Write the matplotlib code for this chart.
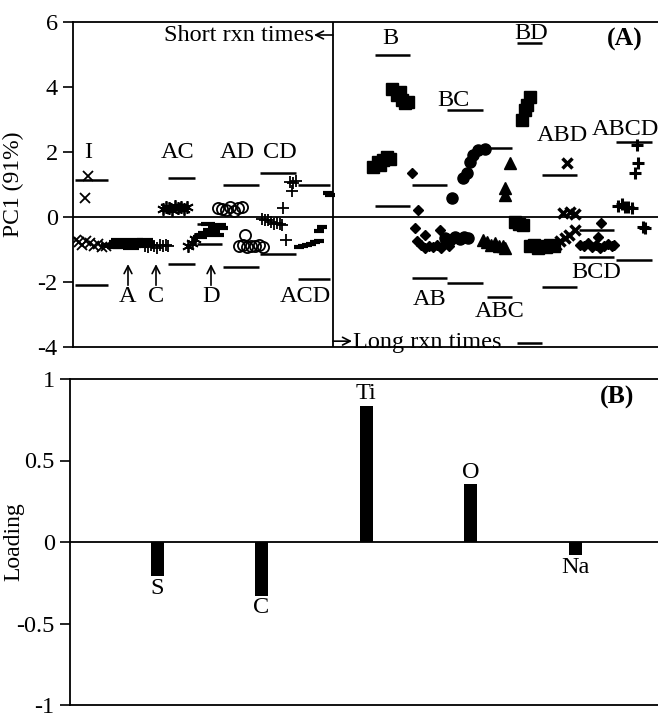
import matplotlib
matplotlib.use("Agg")
import matplotlib.pyplot as plt

plt.rcParams['font.family'] = ['Liberation Serif', 'DejaVu Serif']
plt.rcParams['axes.unicode_minus'] = False

# ---------------- Panel A data (x = sample position, y = PC1 score) ----------------
groups = ['I', 'A', 'C', 'AC', 'D', 'AD', 'CD', 'ACD',
          'B', 'AB', 'BC', 'ABC', 'BD', 'ABD', 'BCD', 'ABCD']

I_x = [15, 12, 3, 6, 9, 13, 17, 21, 25, 29, 33]
I_y = [1.26, 0.58, -0.72, -0.78, -0.85, -0.75, -0.8, -0.9, -0.83, -0.92, -0.88]
A_x = [36, 40, 44, 48, 52, 56, 60, 64, 68, 72, 42, 50, 58, 66, 74, 46, 62]
A_y = [-0.85, -0.9, -0.78, -0.92, -0.85, -0.8, -0.9, -0.75, -0.85, -0.7, -0.93, -0.82, -0.95, -0.88, -0.8, -0.72, -0.7]
C_x = [72, 75, 78, 81, 84, 87, 90, 93, 95]
C_y = [-0.88, -0.92, -0.85, -0.9, -0.95, -0.87, -0.9, -0.85, -0.88]
AC_x = [90, 93, 96, 99, 102, 105, 108, 111, 114]
AC_y = [0.25, 0.32, 0.28, 0.22, 0.35, 0.27, 0.3, 0.25, 0.3]
D_star_x = [115, 119, 122]
D_star_y = [-0.88, -0.8, -0.68]
D_x = [127, 132, 137, 142, 146, 130, 140, 148, 135, 144]
D_y = [-0.62, -0.5, -0.4, -0.3, -0.25, -0.55, -0.45, -0.35, -0.22, -0.55]
AD_x = [145, 149, 153, 157, 161, 165, 169, 172, 166, 170, 174, 178, 182, 186, 190]
AD_y = [0.28, 0.25, 0.22, 0.3, 0.2, 0.28, 0.32, -0.55, -0.9, -0.85, -0.92, -0.88, -0.9, -0.85, -0.92]
CD_x = [217, 220, 223, 219, 210, 213, 189, 192, 195, 198, 201, 204, 207, 209]
CD_y = [1.07, 1.05, 1.1, 0.8, 0.28, -0.7, -0.05, -0.1, -0.08, -0.15, -0.2, -0.18, -0.22, -0.25]
ACD_x = [255, 257, 249, 246, 226, 230, 234, 238, 242, 246]
ACD_y = [0.74, 0.68, -0.3, -0.42, -0.92, -0.88, -0.85, -0.82, -0.78, -0.75]
B_x = [319, 324, 327, 332, 335, 329, 300, 305, 310, 314, 307, 317]
B_y = [3.95, 3.75, 3.85, 3.5, 3.55, 3.6, 1.55, 1.7, 1.75, 1.85, 1.6, 1.8]
AB_x = [339, 345, 342, 352, 367, 344, 348, 352, 356, 360, 364, 368, 372, 376]
AB_y = [1.35, 0.22, -0.33, -0.55, -0.4, -0.75, -0.85, -0.95, -0.9, -0.92, -0.85, -0.95, -0.8, -0.88]
BC_x = [379, 390, 394, 397, 400, 405, 412, 372, 377, 382, 387, 391, 395]
BC_y = [0.58, 1.2, 1.35, 1.7, 1.9, 2.05, 2.1, -0.65, -0.7, -0.62, -0.68, -0.6, -0.65]
ABC_x = [437, 432, 432, 410, 414, 418, 422, 426, 430, 432]
ABC_y = [1.66, 0.9, 0.68, -0.72, -0.78, -0.85, -0.8, -0.9, -0.88, -0.95]
BD_x = [457, 454, 452, 449, 442, 446, 450, 457, 461, 465, 469, 473, 477, 481]
BD_y = [3.69, 3.45, 3.3, 2.98, -0.15, -0.22, -0.25, -0.9, -0.85, -0.95, -0.88, -0.92, -0.85, -0.9]
ABD_x = [494, 490, 497, 502, 502, 496, 492, 487, 483]
ABD_y = [1.66, 0.12, 0.15, 0.1, -0.4, -0.55, -0.65, -0.75, -0.85]
BCD_x = [528, 525, 507, 511, 515, 519, 523, 527, 531, 535, 539, 541]
BCD_y = [-0.18, -0.6, -0.85, -0.9, -0.8, -0.92, -0.85, -0.95, -0.88, -0.82, -0.9, -0.85]
ABCD_x = [564, 565, 562, 545, 549, 552, 555, 559, 572, 570]
ABCD_y = [2.22, 1.66, 1.35, 0.35, 0.4, 0.3, 0.32, 0.28, -0.35, -0.3]

# limit lines: (x start, x end, upper, lower)
lim_x0 = [2, None, None, 95, 124, 150, 187, 225, 302, 339, 374, 414, 444, 469, 506, 543]
lim_x1 = [35, None, None, 122, 149, 186, 223, 257, 337, 374, 410, 439, 469, 504, 541, 579]
lim_up = [1.14, None, None, 1.2, -0.22, 0.98, 1.36, 0.98, 4.98, 0.98, 3.29, 2.12, 5.35, 1.3, -0.4, 2.31]
lim_lo = [-2.09, None, None, -1.45, -0.83, -1.55, -1.14, -1.9, 0.34, -1.88, -2.03, -2.46, -3.88, -2.15, -1.23, -1.32]

# group labels: (x, y)
lab_x = [15, 55, 83, 105, 138, 164, 207, 232, 317, 357, 380, 427, 458, 489, 523, 552]
lab_y = [2.0, -2.46, -2.46, 2.0, -2.46, 2.0, 2.0, -2.46, 5.5, -2.55, 3.6, -2.92, 5.66, 2.52, -1.72, 2.68]

# ---------------- Panel B data ----------------
elements = ['S', 'C', 'Ti', 'O', 'Na']
loadings = [-0.21, -0.33, 0.835, 0.354, -0.08]

fig = plt.figure(figsize=(6.58, 7.13), dpi=100)
axA = fig.add_axes([73/658, 1-347/713, 1-73/658 + 0.01, (347-22)/713])
axB = fig.add_axes([70/658, 1-705/713, 1-70/658 + 0.01, (705-379)/713])

FS = 17.5
TFS = 17.5
k = 'black'
ARW = dict(arrowstyle='->,head_length=0.55,head_width=0.28', color=k, lw=1.2,
           shrinkA=0, shrinkB=0)
axA.plot(I_x, I_y, 'x', color=k, ms=7, mew=1.3, ls='none')
axA.plot(A_x, A_y, '_', color=k, ms=11, mew=3, ls='none')
axA.plot(C_x, C_y, '+', color=k, ms=9, mew=1.3, ls='none')
axA.plot(AC_x, AC_y, marker=(6, 2, 0), color=k, ms=9, mew=1.3, ls='none')
axA.plot(D_star_x, D_star_y, marker=(6, 2, 0), color=k, ms=9, mew=1.3, ls='none')
axA.plot(D_x, D_y, '_', color=k, ms=10, mew=3, ls='none')
axA.plot(AD_x, AD_y, 'o', mfc='none', mec=k, ms=8, mew=1.3, ls='none')
axA.plot(CD_x, CD_y, '+', color=k, ms=8, mew=1.3, ls='none')
axA.plot(ACD_x, ACD_y, '_', color=k, ms=7, mew=3, ls='none')
axA.plot(B_x, B_y, 's', color=k, ms=8, ls='none')
axA.plot(AB_x, AB_y, 'D', color=k, ms=5.5, ls='none')
axA.plot(BC_x, BC_y, 'o', color=k, ms=8, ls='none')
axA.plot(ABC_x, ABC_y, '^', color=k, ms=8, ls='none')
axA.plot(BD_x, BD_y, 's', color=k, ms=8, ls='none')
axA.plot(ABD_x, ABD_y, 'x', color=k, ms=7, mew=2.5, ls='none')
axA.plot(BCD_x, BCD_y, 'D', color=k, ms=5.5, ls='none')
axA.plot(ABCD_x, ABCD_y, '+', color=k, ms=8, mew=2.2, ls='none')

for x0, x1, up, lo in zip(lim_x0, lim_x1, lim_up, lim_lo):
    if x0 is None:
        continue
    axA.hlines([up, lo], x0, x1, color=k, lw=1.8)

for g, x, y in zip(groups, lab_x, lab_y):
    axA.text(x, y, g, ha='center', va='center', fontsize=FS)

for g in ['A', 'C', 'D']:
    i = groups.index(g)
    axA.annotate('', xy=(lab_x[i], -1.45), xytext=(lab_x[i], -2.1), arrowprops=ARW)

axA.axhline(0, color=k, lw=1.3)
axA.axvline(260, color=k, lw=1.3)
axA.text(241, 5.57, 'Short rxn times', ha='right', va='center', fontsize=FS)
axA.annotate('', xy=(241, 5.6), xytext=(260, 5.6), arrowprops=ARW)
axA.annotate('', xy=(279, -3.82), xytext=(260, -3.82), arrowprops=ARW)
axA.text(280, -3.85, 'Long rxn times', ha='left', va='center', fontsize=FS)
axA.text(552, 5.45, '(A)', ha='center', va='center', fontsize=18.5, fontweight='bold')

axA.set_xlim(0, 585 * (1-73/658 + 0.01) / (1-73/658))
axA.set_ylim(-4, 6)
axA.set_yticks([-4, -2, 0, 2, 4, 6])
axA.set_xticks([])
axA.set_ylabel('PC1 (91%)', fontsize=17)
axA.yaxis.set_label_coords(-0.082, 0.5)

# Panel B
xpos = list(range(1, len(elements) + 1))
axB.bar(xpos, loadings, width=0.125, color=k)
for x, v, e in zip(xpos, loadings, elements):
    if v >= 0:
        axB.text(x, v + 0.01, e, ha='center', va='bottom', fontsize=FS)
    else:
        axB.text(x, v - 0.01, e, ha='center', va='top', fontsize=FS)
axB.axhline(0, color=k, lw=1.3)
axB.text(5.4, 0.885, '(B)', ha='center', va='center', fontsize=18.5, fontweight='bold')
axB.set_xlim(0.167, 0.167 + (658 - 70) / 104.5 * (1 + 0.01 / (1-70/658)))
axB.set_ylim(-1, 1)
axB.set_yticks([-1, -0.5, 0, 0.5, 1])
axB.set_yticklabels(['-1', '-0.5', '0', '0.5', '1'])
axB.set_xticks([])
axB.set_ylabel('Loading', fontsize=17)
axB.yaxis.set_label_coords(-0.077, 0.5)

for ax in (axA, axB):
    ax.spines['right'].set_visible(False)
    for s in ('left', 'top', 'bottom'):
        ax.spines[s].set_linewidth(1.3)
    ax.tick_params(axis='y', direction='out', length=7, width=1.2, labelsize=TFS, pad=4)

fig.savefig('out.png', dpi=100)
